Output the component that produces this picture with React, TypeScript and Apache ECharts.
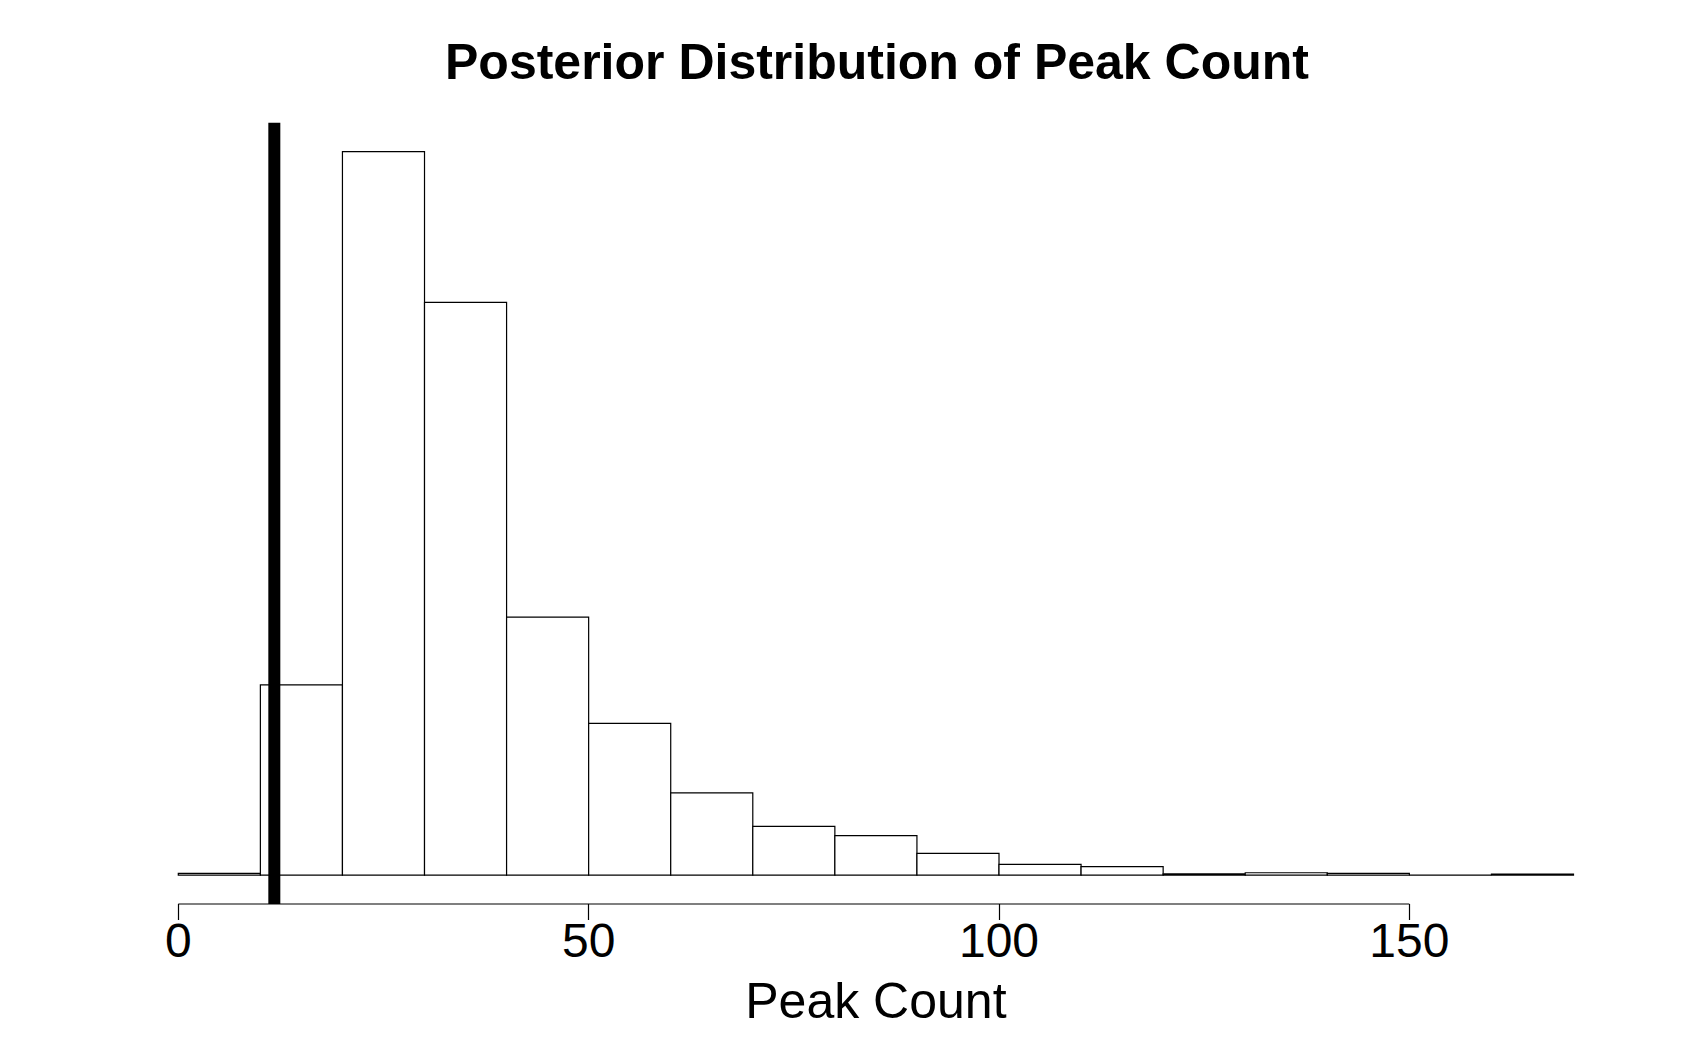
import React, { useEffect, useRef } from "react";
import * as echarts from "echarts";

// Histogram bins (lower edges), width 10
const binStarts = [0, 10, 20, 30, 40, 50, 60, 70, 80, 90, 100, 110, 120, 130, 140, 150, 160];
const binWidth = 10;
// Relative frequencies
const counts = [1.6, 190, 722.6, 572, 257.6, 151.6, 82, 48.6, 39.3, 21.6, 10.6, 8.5, 1.2, 2.3, 1.6, 0, 1.0];
// Observed value (thick vertical line)
const observedValue = [11.7];
// x-axis tick values
const tickValues = [0, 50, 100, 150];

const titleText = "Posterior Distribution of Peak Count";
const xName = "Peak Count";
const FONT = "'Liberation Sans', Arial, Helvetica, sans-serif";

export default function App() {
  const ref = useRef<HTMLDivElement | null>(null);

  useEffect(() => {
    if (!ref.current) return;
    const chart = echarts.init(ref.current, null, { renderer: "svg" });
    const M = Math.max(...counts);
    const yMin = -0.04 * M;
    const yMax = 1.04 * M;
    const histData = binStarts.map((s, i) => [s, s + binWidth, counts[i]]);
    const axisStart = tickValues[0];
    const axisEnd = tickValues[tickValues.length - 1];

    chart.setOption({
      animation: false,
      backgroundColor: "#ffffff",
      title: {
        text: titleText,
        left: 445,
        top: 37,
        padding: 0,
        textStyle: { fontFamily: FONT, fontWeight: "bold", fontSize: 50, color: "#000" },
      },
      grid: { left: 178.3, right: 118.5, top: 122.7, bottom: 154 },
      xAxis: {
        type: "value",
        min: 0,
        max: 170,
        name: xName,
        nameLocation: "middle",
        nameGap: 72,
        nameTextStyle: { fontFamily: FONT, fontSize: 50, color: "#000" },
        splitLine: { show: false },
        axisLine: { show: false, onZero: false },
        axisTick: {
          show: true,
          length: 16,
          customValues: tickValues,
          lineStyle: { color: "#000", width: 1.2 },
        },
        axisLabel: {
          customValues: tickValues,
          margin: 12,
          fontFamily: FONT,
          fontSize: 48,
          color: "#000",
        },
      },
      yAxis: {
        type: "value",
        min: yMin,
        max: yMax,
        show: false,
        splitLine: { show: false },
      },
      series: [
        {
          type: "custom",
          silent: true,
          clip: false,
          data: histData,
          encode: { x: [0, 1], y: 2 },
          renderItem: (params: any, api: any) => {
            const x0 = api.value(0);
            const x1 = api.value(1);
            const c = api.value(2);
            const p0 = api.coord([x0, c]);
            const p1 = api.coord([x1, 0]);
            return {
              type: "rect",
              shape: { x: p0[0], y: p0[1], width: p1[0] - p0[0], height: p1[1] - p0[1] },
              style: { fill: "#ffffff", stroke: "#000000", lineWidth: 1.2 },
            };
          },
        },
        {
          type: "line",
          silent: true,
          clip: false,
          symbol: "none",
          data: [
            [axisStart, yMin],
            [axisEnd, yMin],
          ],
          lineStyle: { color: "#000", width: 1.2 },
        },
        {
          type: "line",
          silent: true,
          clip: false,
          symbol: "none",
          data: [
            [observedValue[0], yMin],
            [observedValue[0], yMax],
          ],
          lineStyle: { color: "#000", width: 12, cap: "butt" },
        },
      ],
    });
    return () => chart.dispose();
  }, []);

  return (
    <div
      ref={ref}
      style={{ position: "absolute", left: 0, top: 0, width: 1692, height: 1058, background: "#fff" }}
    />
  );
}
